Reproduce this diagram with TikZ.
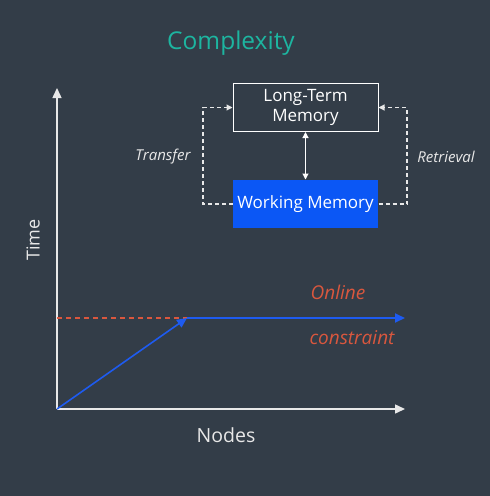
\documentclass[tikz,border=0pt]{standalone}
\usepackage{fontspec}
\setmainfont{Open Sans}
\usetikzlibrary{arrows.meta}
\definecolor{bg}{HTML}{333D48}
\definecolor{teal}{HTML}{1DB5A0}
\definecolor{axis}{HTML}{E8E8E8}
\definecolor{wmblue}{HTML}{0B57F5}
\definecolor{red}{HTML}{D9573E}
\definecolor{lblue}{HTML}{1E5BF0}
\tikzset{
  axisline/.style={draw=axis, line width=1.5pt, -{Triangle[length=10pt,width=9pt]}},
  membox/.style={draw=white, line width=1pt, minimum width=145pt, minimum height=48pt, inner sep=0pt, text=white, align=center, font=\fontsize{17}{20}\selectfont},
  dashconn/.style={draw=axis, line width=1.1pt, dash pattern=on 4pt off 3pt},
  lbl/.style={text=axis, font=\fontsize{15}{18}\selectfont\itshape},
  redlbl/.style={text=red, font=\fontsize{19}{22}\selectfont\itshape},
}
\begin{document}
\begin{tikzpicture}[x=1pt,y=-1pt]
\path[fill=bg] (0,0) rectangle (490,496);
\useasboundingbox (0,0) rectangle (490,496);
\node[text=teal, font=\fontsize{24.5}{29}\selectfont] (title) at (231,43) {Complexity};
\coordinate (o) at (57,409);
\coordinate (ytop) at (57,88);
\coordinate (xend) at (405,409);
\draw[axisline] (o) -- (ytop);
\draw[axisline] (o) -- (xend);
\node[text=axis, rotate=90, font=\fontsize{18}{21}\selectfont] (time) at (33,240) {Time};
\node[text=axis, font=\fontsize{19.5}{23}\selectfont] (nodes) at (226,435) {Nodes};
\node[membox, fill=bg] (ltm) at (305.5,107.5) {Long-Term\\Memory};
\node[membox, fill=wmblue, draw=none] (wm) at (305.5,204) {Working Memory};
\draw[draw=white, line width=1.1pt, {Triangle[length=6pt,width=6pt]}-{Triangle[length=6pt,width=6pt]}] (ltm.south) -- (wm.north);
\draw[dashconn, -{Triangle[length=6pt,width=6pt]}] (wm.west) -| (203,107.5) -- (ltm.west);
\draw[dashconn, -{Triangle[length=6pt,width=6pt]}] (wm.east) -| (407,107.5) -- (ltm.east);
\node[lbl] (transfer) at (163,157) {Transfer};
\node[lbl] (retrieval) at (446,157) {Retrieval};
\coordinate (knee) at (187,318);
\coordinate (redstart) at (57,318);
\coordinate (bend) at (405,318);
\draw[draw=red, line width=1.6pt, dash pattern=on 5pt off 4pt] (redstart) -- (knee);
\draw[draw=lblue, line width=1.6pt, -{Triangle[length=10pt,width=9pt]}] (o) -- (knee);
\draw[draw=lblue, line width=2pt, -{Triangle[length=10pt,width=9pt]}] (knee) -- (bend);
\node[redlbl] (online) at (338,292) {Online};
\node[redlbl] (constraint) at (352,338) {constraint};
\end{tikzpicture}
\end{document}
